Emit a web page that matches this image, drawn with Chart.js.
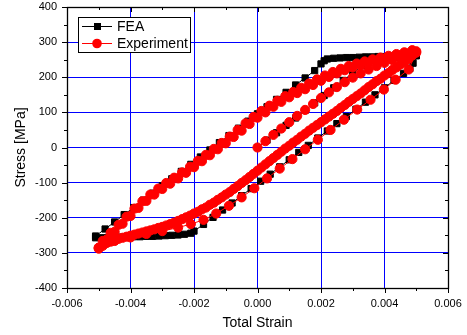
<!DOCTYPE html>
<html>
<head>
<meta charset="utf-8">
<script src="https://cdn.jsdelivr.net/npm/chart.js@4.4.0/dist/chart.umd.min.js"></script>
<style>
  html, body { margin: 0; padding: 0; background: #fff; }
  canvas { display: block; }
</style>
</head>
<body>
<canvas id="grafico" width="467" height="335"></canvas>
<script>
// FEA: carga inicial, descarga, recarga
const feaInitStrain = [0, 0.0003, 0.0006, 0.0009, 0.0012, 0.0015, 0.0018, 0.0021, 0.0024, 0.0027, 0.003, 0.0033, 0.0035, 0.0037, 0.0039, 0.0041, 0.0043, 0.0045, 0.0047, 0.0049, 0.005];
const feaInitStress = [0, 21, 42, 63, 84, 106, 127, 148, 170, 191, 212, 233, 246, 250, 252, 254, 256, 257, 259, 260, 261];

const feaDownStrain = [0.0049, 0.0048, 0.0046, 0.0043, 0.004, 0.0037, 0.0034, 0.0031, 0.0028, 0.0025, 0.0022, 0.0019, 0.0016, 0.0013, 0.001, 0.0007, 0.0004, 0.0001, -0.0002, -0.0005, -0.0008, -0.0011, -0.0014, -0.0017, -0.002, -0.0021, -0.0023, -0.0025, -0.0027, -0.0029, -0.0031, -0.0033, -0.0035, -0.0037, -0.0039, -0.0041, -0.0043, -0.0045, -0.0047, -0.0049, -0.0051];
const feaDownStress = [240, 225, 211, 191, 170, 150, 129, 109, 88, 68, 47, 27, 6, -14, -35, -55, -76, -96, -117, -137, -158, -178, -199, -219, -238, -244, -247, -249, -250, -251, -252, -253, -253, -254, -254, -255, -255, -256, -256, -257, -257];

const feaUpStrain = [-0.0051, -0.0048, -0.0045, -0.0042, -0.0039, -0.0036, -0.0033, -0.003, -0.0027, -0.0024, -0.0021, -0.0018, -0.0015, -0.0012, -0.0009, -0.0006, -0.0003, 0, 0.0003, 0.0006, 0.0009, 0.0012, 0.0015, 0.0018, 0.002, 0.0021, 0.0022, 0.0024, 0.0026, 0.0028, 0.003, 0.0032, 0.0034, 0.0036, 0.0038, 0.004, 0.0042, 0.0044, 0.0046, 0.0048, 0.005];
const feaUpStress = [-252, -232, -212, -191, -171, -150, -130, -109, -89, -68, -48, -27, -7, 14, 34, 55, 75, 96, 116, 137, 157, 178, 198, 219, 238, 247, 252, 254, 255, 256, 256, 257, 258, 258, 259, 259, 260, 260, 261, 261, 262];

// Experimento
const expInitStrain = [0, 0.00025, 0.0005, 0.00075, 0.001, 0.00125, 0.0015, 0.00175, 0.002, 0.00225, 0.0025, 0.00275, 0.003, 0.00325, 0.0035, 0.00375, 0.004, 0.00425, 0.0045, 0.00475, 0.005];
const expInitStress = [0, 18, 36, 54, 72, 90, 107, 124, 141, 157, 172, 186, 199, 211, 222, 232, 241, 249, 256, 263, 270];

const expSparseStrain = [0.00476, 0.00435, 0.00398, 0.00356, 0.00314, 0.00272, 0.0023, 0.0019, 0.0015, 0.0011, 0.0007, 0.0003, -0.0001, -0.0005, -0.0009, -0.0013, -0.0017, -0.0021, -0.0025, -0.003, -0.0035, -0.004, -0.0045, -0.005];
const expSparseStress = [222, 193, 165, 136, 108, 79, 50, 22, -5, -33, -60, -88, -116, -142, -166, -188, -206, -218, -228, -238, -246, -256, -266, -285];

const expUpStrainA = [-0.005, -0.00475, -0.0045, -0.00425, -0.004, -0.00375, -0.0035, -0.00325, -0.003, -0.00275, -0.0025, -0.00225, -0.002, -0.00175, -0.0015, -0.00125, -0.001, -0.00075, -0.0005, -0.00025, 0, 0.00025, 0.0005, 0.00075, 0.001, 0.00125, 0.0015, 0.00175, 0.002, 0.00225, 0.0025, 0.00275, 0.003, 0.00325, 0.0035, 0.00375, 0.004, 0.00425, 0.0045, 0.00475, 0.005];
const expUpStressA = [-286, -262, -240, -217, -195, -172, -152, -134, -118, -103, -88, -72, -56, -39, -22, -5, 12, 30, 48, 67, 85, 100, 116, 130, 143, 155, 166, 178, 190, 201, 211, 220, 228, 235, 241, 247, 253, 258, 263, 268, 274];

const expDownStrainA = [0.00475, 0.0045, 0.00425, 0.004, 0.00375, 0.0035, 0.00325, 0.003, 0.00275, 0.0025, 0.00225, 0.002, 0.00175, 0.0015, 0.00125, 0.001, 0.00075, 0.0005, 0.00025, 0, -0.00025, -0.0005, -0.00075, -0.001, -0.00125, -0.0015, -0.00175, -0.002, -0.00225, -0.0025, -0.00275, -0.003, -0.00325, -0.0035, -0.00375, -0.004, -0.00425, -0.0045, -0.00475, -0.005];
const expDownStressA = [252, 236, 221, 205, 189, 172, 154, 138, 121, 104, 88, 72, 56, 39, 22, 5, -12, -30, -48, -66, -84, -101, -118, -134, -149, -163, -176, -188, -199, -209, -218, -226, -233, -239, -245, -251, -257, -264, -272, -288];

const expUpStrainB = [-0.004875, -0.004625, -0.004375, -0.004125, -0.003875, -0.003625, -0.003375, -0.003125, -0.002875, -0.002625, -0.002375, -0.002125, -0.001875, -0.001625, -0.001375, -0.001125, -0.000875, -0.000625, -0.000375, -0.000125, 0.000125, 0.000375, 0.000625, 0.000875, 0.001125, 0.001375, 0.001625, 0.001875, 0.002125, 0.002375, 0.002625, 0.002875, 0.003125, 0.003375, 0.003625, 0.003875, 0.004125, 0.004375, 0.004625, 0.004875];
const expUpStressB = [-266, -243, -220, -197, -174, -153, -134, -117, -101, -86, -71, -55, -38, -21, -4, 13, 31, 50, 69, 87, 104, 119, 133, 146, 158, 170, 182, 194, 205, 215, 224, 232, 239, 245, 251, 256, 261, 266, 271, 277];

const expDownStrainB = [0.004875, 0.004625, 0.004375, 0.004125, 0.003875, 0.003625, 0.003375, 0.003125, 0.002875, 0.002625, 0.002375, 0.002125, 0.001875, 0.001625, 0.001375, 0.001125, 0.000875, 0.000625, 0.000375, 0.000125, -0.000125, -0.000375, -0.000625, -0.000875, -0.001125, -0.001375, -0.001625, -0.001875, -0.002125, -0.002375, -0.002625, -0.002875, -0.003125, -0.003375, -0.003625, -0.003875, -0.004125, -0.004375, -0.004625, -0.004875];
const expDownStressB = [262, 243, 228, 212, 196, 180, 163, 146, 130, 113, 96, 80, 64, 48, 31, 14, -3, -21, -39, -57, -75, -93, -110, -127, -142, -157, -171, -183, -194, -204, -214, -222, -229, -236, -242, -248, -254, -260, -268, -280];

function pares(xs, ys) {
  return xs.map((x, i) => ({ x: x, y: ys[i] }));
}

const feaData = [].concat(
  pares(feaInitStrain, feaInitStress),
  pares(feaDownStrain, feaDownStress),
  pares(feaUpStrain, feaUpStress)
);
const expData = [].concat(
  pares(expInitStrain, expInitStress),
  pares(expSparseStrain, expSparseStress),
  pares(expUpStrainA, expUpStressA),
  pares(expDownStrainA, expDownStressA),
  pares(expUpStrainB, expUpStressB),
  pares(expDownStrainB, expDownStressB)
);

const FUENTE = "'Liberation Sans', Arial, sans-serif";

// marco, ticks menores y leyenda estilo Origin
const marcoPlugin = {
  id: 'marco',
  afterDraw(chart) {
    const ctx = chart.ctx;
    const a = chart.chartArea;
    const xs = chart.scales.x;
    const ys = chart.scales.y;
    ctx.save();
    ctx.strokeStyle = '#000';
    ctx.lineWidth = 1;
    ctx.beginPath();
    for (let k = -6; k <= 6; k++) {
      const px = Math.round(xs.getPixelForValue(k / 1000)) + 0.5;
      const len = k % 2 === 0 ? 5 : 3;
      ctx.moveTo(px, a.bottom); ctx.lineTo(px, a.bottom + len);
      ctx.moveTo(px, a.top); ctx.lineTo(px, a.top + len);
    }
    for (let k = -8; k <= 8; k++) {
      const py = Math.round(ys.getPixelForValue(k * 50)) + 0.5;
      const len = k % 2 === 0 ? 5 : 3;
      ctx.moveTo(a.left, py); ctx.lineTo(a.left - len, py);
      ctx.moveTo(a.right, py); ctx.lineTo(a.right - len, py);
    }
    ctx.stroke();
    ctx.lineWidth = 1.3;
    ctx.strokeRect(Math.round(a.left) + 0.5, Math.round(a.top) + 0.5, Math.round(a.right - a.left), Math.round(a.bottom - a.top));

    // leyenda
    const bx = 78, by = 17, bw = 112, bh = 35;
    ctx.fillStyle = '#fff';
    ctx.fillRect(bx, by, bw, bh);
    ctx.lineWidth = 1;
    ctx.strokeStyle = '#000';
    ctx.strokeRect(bx + 0.5, by + 0.5, bw, bh);
    const filas = [
      { texto: 'FEA', color: '#000', y: 26.5, tipo: 'rect' },
      { texto: 'Experiment', color: '#ff0000', y: 43.5, tipo: 'circle' }
    ];
    filas.forEach(f => {
      ctx.strokeStyle = f.color;
      ctx.lineWidth = 1;
      ctx.beginPath();
      ctx.moveTo(82, f.y); ctx.lineTo(112, f.y);
      ctx.stroke();
      ctx.fillStyle = f.color;
      if (f.tipo === 'rect') {
        ctx.fillRect(94, f.y - 3.5, 7, 7);
      } else {
        ctx.beginPath();
        ctx.arc(97, f.y, 4.8, 0, Math.PI * 2);
        ctx.fill();
      }
      ctx.fillStyle = '#000';
      ctx.font = '14px ' + FUENTE;
      ctx.textBaseline = 'middle';
      ctx.textAlign = 'left';
      ctx.fillText(f.texto, 117, f.y + 0.5);
    });
    ctx.restore();
  }
};

const ctx = document.getElementById('grafico').getContext('2d');
const myChart = new Chart(ctx, {
  type: 'scatter',
  data: {
    datasets: [
      {
        label: 'FEA',
        data: feaData,
        showLine: true,
        borderColor: '#000',
        backgroundColor: '#000',
        borderWidth: 1,
        pointStyle: 'rect',
        pointRadius: 4.4,
        pointBorderWidth: 1,
        order: 2
      },
      {
        label: 'Experiment',
        data: expData,
        showLine: true,
        borderColor: '#ff0000',
        backgroundColor: '#ff0000',
        borderWidth: 1,
        pointStyle: 'circle',
        pointRadius: 4.6,
        pointBorderWidth: 1,
        order: 1
      }
    ]
  },
  options: {
    responsive: false,
    animation: false,
    layout: { padding: { left: 0, top: 7, right: 19, bottom: 0 } },
    plugins: {
      legend: { display: false },
      tooltip: { enabled: false }
    },
    scales: {
      x: {
        type: 'linear',
        min: -0.006,
        max: 0.006,
        afterFit(scale) {
          scale.height = 47;
          scale.paddingLeft = 0; scale.paddingRight = 0;
          scale.paddingTop = 0; scale.paddingBottom = 0;
        },
        ticks: {
          stepSize: 0.002,
          padding: 9,
          color: '#000',
          font: { family: FUENTE, size: 11 },
          maxRotation: 0,
          callback: v => Math.abs(v) < 1e-9 ? '0.000' : v.toFixed(3)
        },
        grid: { color: '#0000ff', lineWidth: 1, drawTicks: false },
        border: { display: false },
        title: {
          display: true,
          text: 'Total Strain',
          color: '#000',
          font: { family: FUENTE, size: 14 },
          padding: { top: 0, bottom: 3 }
        }
      },
      y: {
        type: 'linear',
        min: -400,
        max: 400,
        afterFit(scale) {
          scale.width = 67;
          scale.paddingTop = 0; scale.paddingBottom = 0;
          scale.paddingLeft = 0; scale.paddingRight = 0;
        },
        ticks: {
          stepSize: 100,
          padding: 10,
          color: '#000',
          font: { family: FUENTE, size: 11 }
        },
        grid: { color: '#0000ff', lineWidth: 1, drawTicks: false },
        border: { display: false },
        title: {
          display: true,
          text: 'Stress [MPa]',
          color: '#000',
          font: { family: FUENTE, size: 14 },
          padding: { top: 13, bottom: 0 }
        }
      }
    }
  },
  plugins: [marcoPlugin]
});
</script>
</body>
</html>
